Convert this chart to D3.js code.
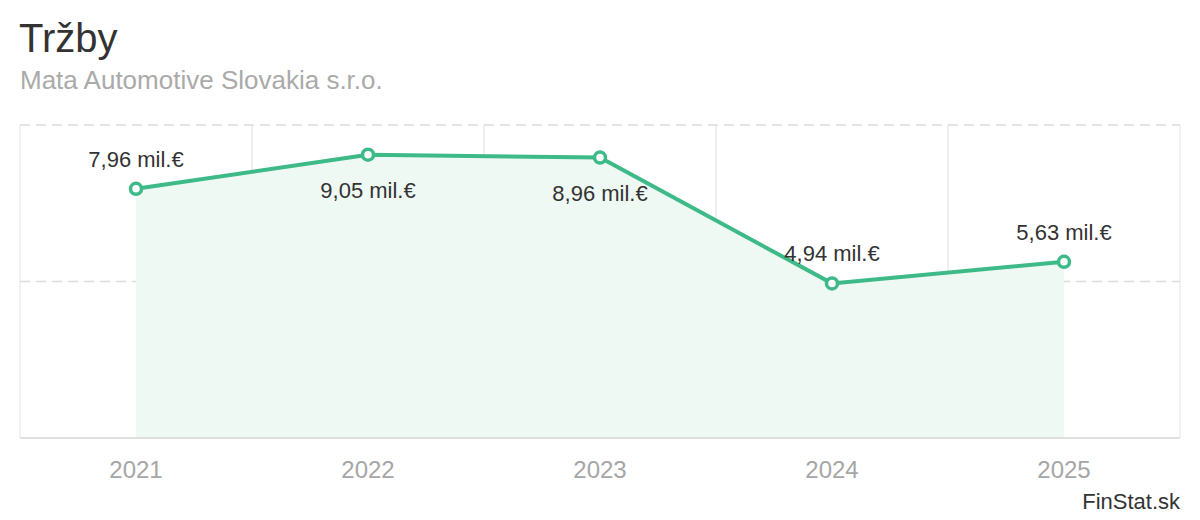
<!DOCTYPE html>
<html>
<head>
<meta charset="utf-8">
<script src="https://cdn.jsdelivr.net/npm/d3@7"></script>
<style>
  body { margin: 0; background: #fff; }
  svg { font-family: "Liberation Sans", Arial, sans-serif; display: block; }
</style>
</head>
<body>
<svg id="chart" width="1200" height="520"></svg>
<script>
const years = ['2021', '2022', '2023', '2024', '2025']
const revenue = [7.96, 9.05, 8.96, 4.94, 5.63]
const labels = ['7,96 mil.€', '9,05 mil.€', '8,96 mil.€', '4,94 mil.€', '5,63 mil.€']
const labelAbove = [true, false, false, true, true]
const yTicks = [5, 10]

const plotLeft = 20, plotRight = 1180, plotTop = 125, plotBottom = 438
const green = '#3dba87'

const svg = d3.select('#chart')

const x = d3.scaleBand().domain(years).range([plotLeft, plotRight])
const y = d3.scaleLinear().domain([0, 10]).range([plotBottom, plotTop])
const cx = d => x(d) + x.bandwidth() / 2

// titles
svg.append('text')
  .attr('x', 19).attr('y', 52)
  .style('font-size', '40px').style('fill', '#333')
  .text('Tržby')
svg.append('text')
  .attr('x', 20).attr('y', 89)
  .style('font-size', '26px').style('fill', '#aaa')
  .text('Mata Automotive Slovakia s.r.o.')

// grid
const grid = svg.append('g')
grid.selectAll('line.v')
  .data(years.slice(1))
  .enter()
  .append('line')
  .attr('x1', d => x(d)).attr('x2', d => x(d))
  .attr('y1', plotTop).attr('y2', plotBottom)
  .style('stroke', '#e0e0e0').style('stroke-width', 1)

grid.selectAll('line.h')
  .data(yTicks)
  .enter()
  .append('line')
  .attr('x1', plotLeft).attr('x2', plotRight)
  .attr('y1', d => y(d)).attr('y2', d => y(d))
  .style('stroke', '#dcdcdc').style('stroke-width', 1.5)
  .style('stroke-dasharray', '10,6')

// frame sides + bottom
grid.append('line')
  .attr('x1', plotLeft).attr('x2', plotLeft).attr('y1', plotTop).attr('y2', plotBottom)
  .style('stroke', '#e3e3e3')
grid.append('line')
  .attr('x1', plotRight).attr('x2', plotRight).attr('y1', plotTop).attr('y2', plotBottom)
  .style('stroke', '#e3e3e3')
grid.append('line')
  .attr('x1', plotLeft).attr('x2', plotRight).attr('y1', plotBottom).attr('y2', plotBottom)
  .style('stroke', '#e0e0e0').style('stroke-width', 2)

const data = years.map((d, i) => ({ year: d, v: revenue[i], label: labels[i], above: labelAbove[i] }))

// area
const area = d3.area()
  .x(d => cx(d.year))
  .y0(plotBottom - 1)
  .y1(d => y(d.v))
svg.append('path')
  .datum(data)
  .attr('d', area)
  .style('fill', '#eef9f4')

// line
const line = d3.line()
  .x(d => cx(d.year))
  .y(d => y(d.v))
svg.append('path')
  .datum(data)
  .attr('d', line)
  .style('fill', 'none')
  .style('stroke', green)
  .style('stroke-width', 4)

// labels
svg.selectAll('text.val')
  .data(data)
  .enter()
  .append('text')
  .attr('x', d => cx(d.year))
  .attr('y', d => d.above ? y(d.v) - 22 : y(d.v) + 43)
  .attr('text-anchor', 'middle')
  .style('font-size', '22px')
  .style('fill', '#333')
  .text(d => d.label)

// points
svg.selectAll('circle')
  .data(data)
  .enter()
  .append('circle')
  .attr('cx', d => cx(d.year))
  .attr('cy', d => y(d.v))
  .attr('r', 5.5)
  .style('fill', '#fff')
  .style('stroke', green)
  .style('stroke-width', 3.5)

// x axis labels
svg.selectAll('text.year')
  .data(years)
  .enter()
  .append('text')
  .attr('x', d => cx(d))
  .attr('y', 478)
  .attr('text-anchor', 'middle')
  .style('font-size', '24px')
  .style('fill', '#a6a6a6')
  .text(d => d)

svg.append('text')
  .attr('x', 1180).attr('y', 509)
  .attr('text-anchor', 'end')
  .style('font-size', '22px').style('fill', '#333')
  .text('FinStat.sk')
</script>
</body>
</html>
